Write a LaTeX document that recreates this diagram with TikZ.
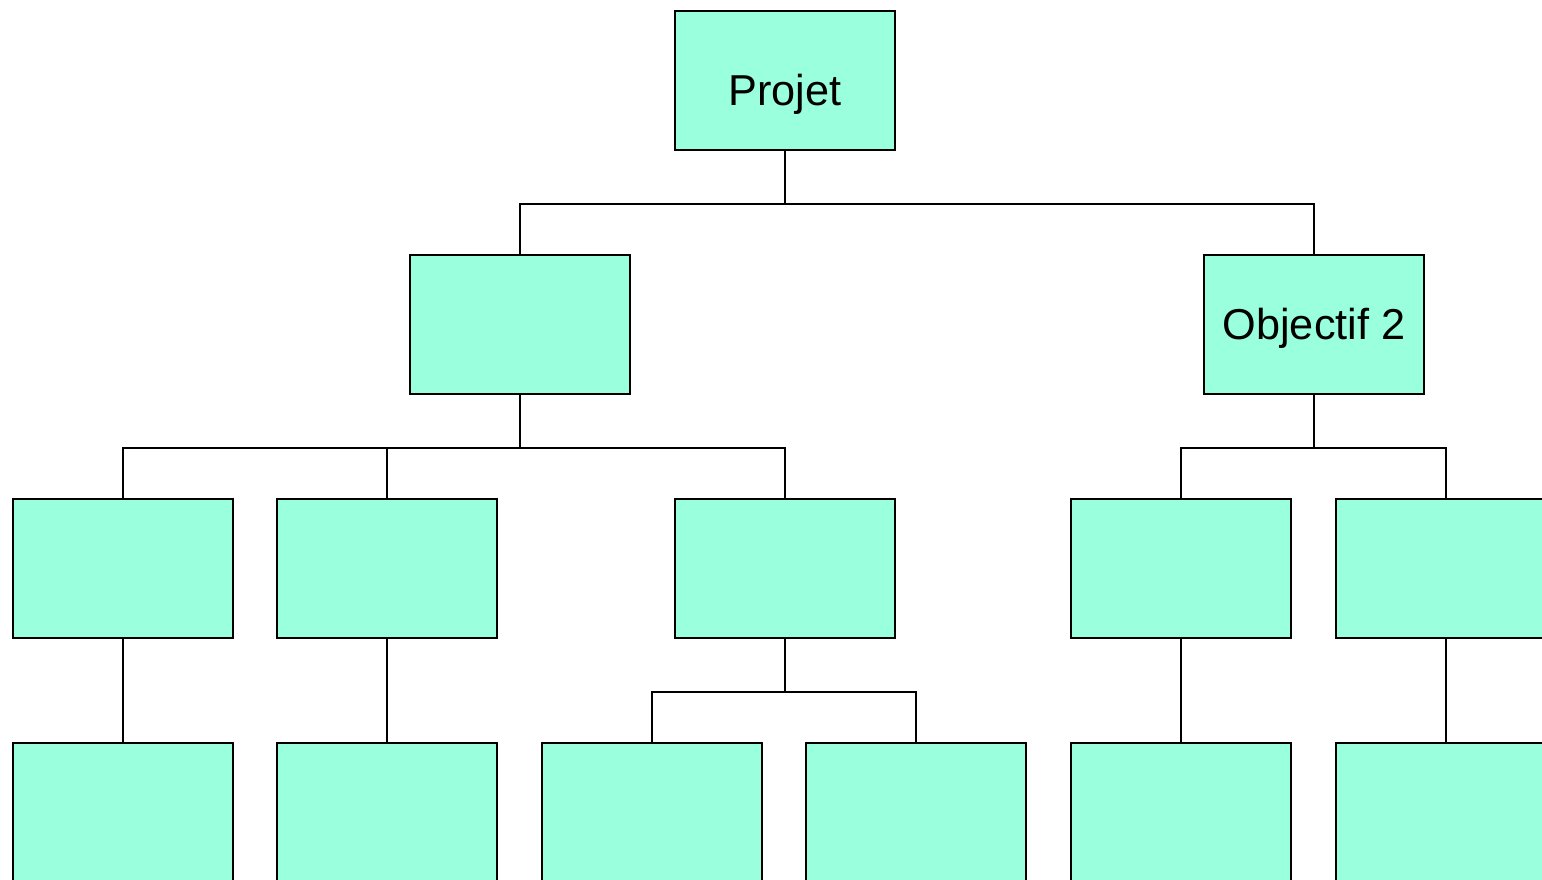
\documentclass[tikz,border=0pt]{standalone}
\usepackage{fontspec}
\setmainfont{Liberation Sans}
\begin{document}
\begin{tikzpicture}[x=0.01cm,y=-0.01cm,
  wbs/.style={draw=black, line width=0.7pt, fill=boxfill, minimum width=2.2cm,
    minimum height=1.39cm, inner sep=0pt, font=\fontsize{12.3pt}{14pt}\selectfont},
  link/.style={draw=black, line width=0.7pt}]
\definecolor{boxfill}{HTML}{99FFDD}
\useasboundingbox (0,0) rectangle (1542,880);
% level 1
\node[wbs] (projet) at (785,80.5) {\raisebox{-0.135cm}[\height][\depth]{Projet}};
% level 2
\node[wbs] (obj1) at (520,324.5) {};
\node[wbs] (obj2) at (1314,324.5) {\raisebox{-0.04cm}[\height][\depth]{Objectif 2}};
% level 3
\node[wbs] (a1) at (123,568.5) {};
\node[wbs] (a2) at (387,568.5) {};
\node[wbs] (a3) at (785,568.5) {};
\node[wbs] (b1) at (1181,568.5) {};
\node[wbs] (b2) at (1446,568.5) {};
% level 4
\node[wbs] (a1t) at (123,812.5) {};
\node[wbs] (a2t) at (387,812.5) {};
\node[wbs] (a3t1) at (652,812.5) {};
\node[wbs] (a3t2) at (916,812.5) {};
\node[wbs] (b1t) at (1181,812.5) {};
\node[wbs] (b2t) at (1446,812.5) {};
% connectors
\draw[link] (projet.south) -- ++(0,52.5) -| (obj1.north);
\draw[link] (projet.south) -- ++(0,52.5) -| (obj2.north);
\draw[link] (obj1.south) -- ++(0,52.5) -| (a1.north);
\draw[link] (obj1.south) -- ++(0,52.5) -| (a2.north);
\draw[link] (obj1.south) -- ++(0,52.5) -| (a3.north);
\draw[link] (obj2.south) -- ++(0,52.5) -| (b1.north);
\draw[link] (obj2.south) -- ++(0,52.5) -| (b2.north);
\draw[link] (a1.south) -- (a1t.north);
\draw[link] (a2.south) -- (a2t.north);
\draw[link] (a3.south) -- ++(0,52.5) -| (a3t1.north);
\draw[link] (a3.south) -- ++(0,52.5) -| (a3t2.north);
\draw[link] (b1.south) -- (b1t.north);
\draw[link] (b2.south) -- (b2t.north);
\end{tikzpicture}
\end{document}
